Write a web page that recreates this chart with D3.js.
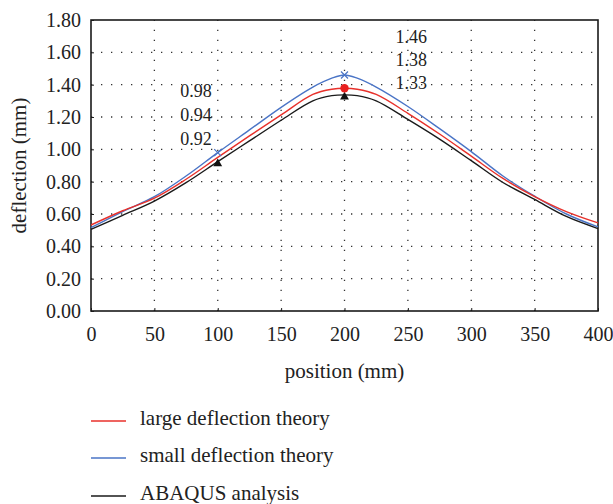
<!DOCTYPE html>
<html><head><meta charset="utf-8">
<script src="https://cdn.jsdelivr.net/npm/d3@7"></script>
<style>
html,body{margin:0;padding:0;background:#fff;}
svg{display:block;font-family:"Liberation Serif","Times New Roman",serif;}
</style></head>
<body><svg id="c" width="613" height="504"></svg>
<script>
const positions = [0,25,50,75,100,125,150,175,190,200,210,225,250,275,300,325,350,375,400];
const largeDeflection = [0.532,0.62,0.698,0.815,0.95,1.083,1.213,1.34,1.372,1.378,1.372,1.34,1.223,1.095,0.958,0.82,0.708,0.615,0.545];
const smallDeflection = [0.515,0.615,0.707,0.835,0.98,1.12,1.26,1.385,1.44,1.46,1.44,1.385,1.265,1.128,0.986,0.835,0.71,0.60,0.52];
const abaqus = [0.505,0.592,0.68,0.794,0.924,1.052,1.18,1.30,1.332,1.337,1.332,1.30,1.185,1.063,0.93,0.795,0.69,0.585,0.51];
const xTicks = [0,50,100,150,200,250,300,350,400];
const yTicks = [0,0.2,0.4,0.6,0.8,1.0,1.2,1.4,1.6,1.8];
const markerPositions = [100,200];
const labels100 = ["0.98","0.94","0.92"];
const labels200 = ["1.46","1.38","1.33"];
const seriesNames = ["large deflection theory","small deflection theory","ABAQUS analysis"];
const seriesColors = ["#e8312b","#4a74c6","#1a1a1a"];

const svg = d3.select("#c");
const L=91, R=598, T=20, B=311;
const x = d3.scaleLinear().domain([0,400]).range([L,R]);
const y = d3.scaleLinear().domain([0,1.8]).range([B,T]);

// grid
const g = svg.append("g");
g.selectAll(".gx").data(xTicks.slice(1,-1)).enter().append("line")
  .attr("x1",d=>x(d)).attr("x2",d=>x(d)).attr("y1",B).attr("y2",T)
  .attr("stroke","#333").attr("stroke-width",1.3).attr("stroke-dasharray","1.3,8.7");
g.selectAll(".gy").data(yTicks.slice(1,-1)).enter().append("line")
  .attr("x1",L).attr("x2",R).attr("y1",d=>y(d)).attr("y2",d=>y(d))
  .attr("stroke","#333").attr("stroke-width",1.3).attr("stroke-dasharray","1.3,8.7");

// axes
const xAxis = svg.append("g").attr("transform",`translate(0,${B})`)
  .call(d3.axisBottom(x).tickValues(xTicks).tickSize(-3).tickPadding(16).tickFormat(d3.format("d")));
const yAxis = svg.append("g").attr("transform",`translate(${L},0)`)
  .call(d3.axisLeft(y).tickValues(yTicks).tickSize(-3).tickPadding(10).tickFormat(d3.format(".2f")));
[xAxis,yAxis].forEach(a=>{
  a.attr("font-family",null);
  a.select(".domain").remove();
  a.selectAll(".tick line").attr("stroke","#222").attr("stroke-width",1);
  a.selectAll("text").attr("font-family","Liberation Serif").attr("font-size",20).attr("fill","#222");
});
svg.append("rect").attr("x",L).attr("y",T).attr("width",R-L).attr("height",B-T)
  .attr("fill","none").attr("stroke","#1a1a1a").attr("stroke-width",1.6);

// lines
const allSeries = [largeDeflection, smallDeflection, abaqus];
const line = d3.line().x((d,i)=>x(positions[i])).y(d=>y(d)).curve(d3.curveCatmullRom.alpha(0.5));
[1,0,2].forEach(k=>{
  svg.append("path").datum(allSeries[k]).attr("d",line)
    .attr("fill","none").attr("stroke",seriesColors[k]).attr("stroke-width",1.4);
});

// markers
const valAt = (arr,p)=>arr[positions.indexOf(p)];
markerPositions.forEach(p=>{
  const bx=x(p), by=y(valAt(smallDeflection,p));
  svg.append("path").attr("d",`M${bx-3.5},${by-3.5}L${bx+3.5},${by+3.5}M${bx-3.5},${by+3.5}L${bx+3.5},${by-3.5}`)
    .attr("stroke",seriesColors[1]).attr("stroke-width",1.2);
  svg.append("path").attr("d",d3.symbol(d3.symbolTriangle,34)())
    .attr("transform",`translate(${x(p)},${y(valAt(abaqus,p))+2})`).attr("fill","#111");
});
svg.append("circle").attr("cx",x(200)).attr("cy",y(valAt(largeDeflection,200))).attr("r",4.2).attr("fill","#e8201f");

// annotation labels
svg.selectAll(".l100").data(labels100).enter().append("text")
  .attr("x",x(100)-6).attr("y",(d,i)=>97+i*24).attr("text-anchor","end")
  .attr("font-size",18).attr("fill","#222").text(d=>d);
svg.selectAll(".l200").data(labels200).enter().append("text")
  .attr("x",x(200)+51).attr("y",(d,i)=>43+i*23).attr("text-anchor","start")
  .attr("font-size",18).attr("fill","#222").text(d=>d);

// axis titles
svg.append("text").attr("x",(L+R)/2).attr("y",378).attr("text-anchor","middle")
  .attr("font-size",21).attr("fill","#222").text("position (mm)");
svg.append("text").attr("transform",`translate(26,${(T+B)/2}) rotate(-90)`).attr("text-anchor","middle")
  .attr("font-size",21).attr("fill","#222").text("deflection (mm)");

// legend
const legY = [421,458,496];
seriesNames.forEach((n,i)=>{
  svg.append("line").attr("x1",91).attr("x2",126).attr("y1",legY[i]).attr("y2",legY[i])
    .attr("stroke",seriesColors[i]).attr("stroke-width",1.3);
  svg.append("text").attr("x",140).attr("y",legY[i]+4).attr("font-size",21).attr("fill","#222").text(n);
});
</script></body></html>
